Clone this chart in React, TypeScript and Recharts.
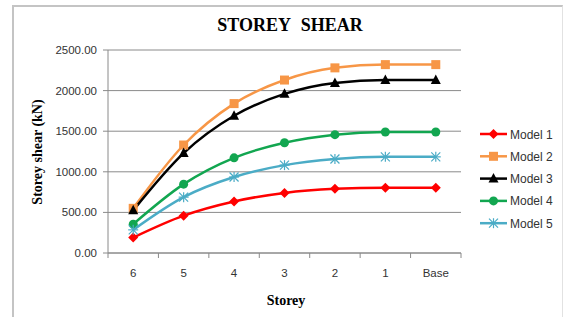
import React from "react";
import { LineChart, Line, XAxis, YAxis, CartesianGrid } from "recharts";

const categories = ["6", "5", "4", "3", "2", "1", "Base"];
const model1 = [190, 460, 635, 740, 790, 805, 805];
const model2 = [550, 1330, 1840, 2130, 2280, 2320, 2320];
const model3 = [525, 1230, 1690, 1960, 2095, 2130, 2130];
const model4 = [355, 848, 1172, 1358, 1457, 1490, 1490];
const model5 = [285, 688, 936, 1082, 1158, 1184, 1184];
const seriesNames = ["Model 1", "Model 2", "Model 3", "Model 4", "Model 5"];
const yTicks = [0, 500, 1000, 1500, 2000, 2500];

const W = 564;
const H = 317;
const PLOT_LEFT = 108;
const PLOT_RIGHT = 461;
const BAND = (PLOT_RIGHT - PLOT_LEFT) / categories.length;
const GRID = "#8a8a8a";
const TICK_FONT = "'Liberation Sans', Arial, sans-serif";
const SERIF = "'Liberation Serif', 'Times New Roman', serif";

type Shape = "diamond" | "square" | "triangle" | "circle" | "star";

const series: { key: string; name: string; color: string; shape: Shape; values: number[] }[] = [
  { key: "m1", name: seriesNames[0], color: "#ff0000", shape: "diamond", values: model1 },
  { key: "m2", name: seriesNames[1], color: "#f79646", shape: "square", values: model2 },
  { key: "m3", name: seriesNames[2], color: "#000000", shape: "triangle", values: model3 },
  { key: "m4", name: seriesNames[3], color: "#12a650", shape: "circle", values: model4 },
  { key: "m5", name: seriesNames[4], color: "#4bacc6", shape: "star", values: model5 },
];

const data = categories.map((c, i) => {
  const row: Record<string, any> = { storey: c };
  series.forEach((s) => (row[s.key] = s.values[i]));
  return row;
});

function Marker({ cx, cy, shape, color }: { cx: number; cy: number; shape: Shape; color: string }) {
  switch (shape) {
    case "diamond":
      return <polygon points={`${cx},${cy - 5} ${cx + 5},${cy} ${cx},${cy + 5} ${cx - 5},${cy}`} fill={color} />;
    case "square":
      return <rect x={cx - 4.5} y={cy - 4.5} width={9} height={9} fill={color} />;
    case "triangle":
      return <polygon points={`${cx},${cy - 5.5} ${cx + 5},${cy + 4} ${cx - 5},${cy + 4}`} fill={color} />;
    case "circle":
      return <circle cx={cx} cy={cy} r={4.5} fill={color} />;
    default:
      return (
        <g stroke={color} strokeWidth={1.2}>
          <line x1={cx - 4.5} y1={cy - 4.5} x2={cx + 4.5} y2={cy + 4.5} />
          <line x1={cx - 4.5} y1={cy + 4.5} x2={cx + 4.5} y2={cy - 4.5} />
          <line x1={cx} y1={cy - 5} x2={cx} y2={cy + 5} />
          <line x1={cx - 5} y1={cy} x2={cx + 5} y2={cy} />
        </g>
      );
  }
}

const makeDot = (shape: Shape, color: string) => (props: any) => {
  if (props.cx == null || props.cy == null) return <g key={props.index} />;
  return (
    <g key={`${shape}-${props.index}`}>
      <Marker cx={props.cx} cy={props.cy} shape={shape} color={color} />
    </g>
  );
};

const XTick = (props: any) => {
  const { x, y, payload, index } = props;
  const last = index === categories.length - 1;
  return (
    <g>
      <line x1={x - BAND / 2} y1={y} x2={x - BAND / 2} y2={y + 5} stroke={GRID} />
      {last && <line x1={x + BAND / 2} y1={y} x2={x + BAND / 2} y2={y + 5} stroke={GRID} />}
      <text x={x} y={y + 24} textAnchor="middle" fontSize={11.5} fontFamily={TICK_FONT} fill="#333">
        {payload.value}
      </text>
    </g>
  );
};

export default function App() {
  return (
    <div style={{ position: "absolute", left: 0, top: 0, width: W, height: H, background: "#fff", overflow: "hidden" }}>
      <div
        style={{
          position: "absolute",
          left: 12,
          top: 5,
          width: 548,
          height: 330,
          borderLeft: "2px solid #c4c4c4",
          borderTop: "2px solid #c4c4c4",
          borderRight: "1px solid #e2e2e2",
        }}
      />
      <div style={{ position: "absolute", left: 0, top: 0 }}>
        <LineChart width={W} height={H} data={data} margin={{ top: 50, right: W - PLOT_RIGHT, bottom: 34, left: 0 }}>
          <CartesianGrid vertical={false} stroke={GRID} />
          <XAxis
            dataKey="storey"
            height={30}
            padding={{ left: BAND / 2, right: BAND / 2 }}
            axisLine={{ stroke: GRID }}
            tickLine={false}
            tickSize={0}
            tickMargin={0}
            tick={<XTick />}
            interval={0}
          />
          <YAxis
            width={PLOT_LEFT}
            domain={[0, 2500]}
            ticks={yTicks}
            tickFormatter={(v: number) => v.toFixed(2)}
            axisLine={{ stroke: GRID }}
            tickLine={{ stroke: GRID }}
            tickSize={5}
            tickMargin={6}
            tick={{ fontSize: 11.5, fontFamily: TICK_FONT, fill: "#333" }}
          />
          {series.map((s) => (
            <Line
              key={s.key}
              type="monotone"
              dataKey={s.key}
              name={s.name}
              stroke={s.color}
              strokeWidth={2.5}
              dot={makeDot(s.shape, s.color)}
              activeDot={false}
              isAnimationActive={false}
            />
          ))}
        </LineChart>
      </div>
      <svg width={W} height={H} style={{ position: "absolute", left: 0, top: 0, pointerEvents: "none" }}>
        <text
          x={290}
          y={31}
          textAnchor="middle"
          fontFamily={SERIF}
          fontWeight="bold"
          fontSize={18}
          wordSpacing={6}
          fill="#000"
        >
          STOREY SHEAR
        </text>
        <text x={286} y={305} textAnchor="middle" fontFamily={SERIF} fontWeight="bold" fontSize={14} fill="#000">
          Storey
        </text>
        <text
          x={0}
          y={0}
          transform="translate(42,152) rotate(-90)"
          textAnchor="middle"
          fontFamily={SERIF}
          fontWeight="bold"
          fontSize={14}
          fill="#000"
        >
          Storey shear (kN)
        </text>
        {series.map((s, i) => {
          const y = 134 + i * 22.3;
          return (
            <g key={s.key}>
              <line x1={480} y1={y} x2={507} y2={y} stroke={s.color} strokeWidth={2.5} />
              <Marker cx={493.5} cy={y} shape={s.shape} color={s.color} />
              <text x={510} y={y + 4.5} fontSize={12} fontFamily={TICK_FONT} fill="#333">
                {s.name}
              </text>
            </g>
          );
        })}
      </svg>
    </div>
  );
}
